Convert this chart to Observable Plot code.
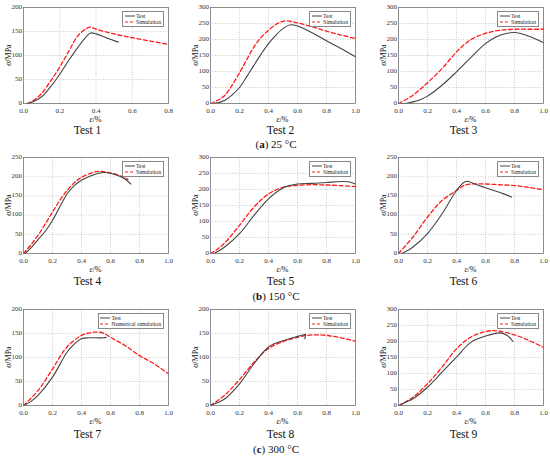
<!DOCTYPE html>
<html><head><meta charset="utf-8">
<script src="https://cdn.jsdelivr.net/npm/d3@7"></script>
<script src="https://cdn.jsdelivr.net/npm/@observablehq/plot@0.6"></script>
<style>
body{margin:0;background:#fff;}
#wrap{position:relative;width:550px;height:459px;overflow:hidden;font-family:"Liberation Serif","Times New Roman",serif;color:#111;}
.abs{position:absolute;white-space:nowrap;transform:translate(-50%,-50%);}
.leg{position:absolute;border:0.6px solid #888;background:#fff;font-size:5.7px;line-height:6.3px;padding:0.8px 2px 0.8px 1.5px;color:#222;white-space:nowrap;}
.leg div{display:flex;align-items:center;}
.leg svg{margin-right:1.5px;}
svg.plot{position:absolute;}
</style></head><body><div id="wrap"></div>
<script>
// ---- data ----
const test1 = [[0.02,0],[0.05,3],[0.1,14],[0.15,35],[0.2,61],[0.25,90],[0.3,117],[0.35,141],[0.37,147],[0.4,145],[0.45,138],[0.5,131],[0.525,128]];
const sim1  = [[0.02,0],[0.05,5],[0.1,21],[0.15,47],[0.2,76],[0.25,109],[0.3,141],[0.35,157],[0.37,159],[0.4,155],[0.5,145],[0.6,137],[0.7,130],[0.8,123]];
const test2 = [[0.02,0],[0.05,2],[0.1,10],[0.15,27],[0.2,50],[0.25,84],[0.3,120],[0.35,155],[0.4,187],[0.45,213],[0.5,234],[0.55,246],[0.6,242],[0.7,221],[0.8,196],[0.9,172],[1.0,146]];
const sim2  = [[0,0],[0.05,10],[0.1,26],[0.15,58],[0.2,96],[0.25,137],[0.3,177],[0.35,207],[0.4,229],[0.45,247],[0.5,257],[0.53,258],[0.6,252],[0.7,240],[0.8,226],[0.9,214],[1.0,203]];
const test3 = [[0.02,0],[0.06,1],[0.1,5],[0.15,12],[0.2,23],[0.3,57],[0.4,99],[0.5,144],[0.6,187],[0.7,213],[0.8,222],[0.9,210],[1.0,190]];
const sim3  = [[0,0],[0.1,26],[0.2,65],[0.3,109],[0.4,161],[0.5,200],[0.6,219],[0.7,229],[0.8,232],[0.9,232],[1.0,232]];
const test4 = [[0.01,0],[0.05,14],[0.1,36],[0.15,58],[0.2,86],[0.25,121],[0.3,155],[0.35,177],[0.4,191],[0.5,207],[0.55,211],[0.6,209],[0.65,203],[0.7,194],[0.74,181]];
const sim4  = [[0,0],[0.05,22],[0.1,47],[0.15,77],[0.2,108],[0.25,138],[0.3,164],[0.35,184],[0.4,198],[0.5,213],[0.6,210],[0.7,197],[0.72,193]];
const test5 = [[0.02,0],[0.05,6],[0.1,21],[0.2,62],[0.3,119],[0.4,171],[0.5,205],[0.6,217],[0.7,219],[0.8,222],[0.9,225],[0.95,224],[1.0,217]];
const sim5  = [[0,0],[0.05,14],[0.1,34],[0.2,88],[0.3,145],[0.4,186],[0.5,207],[0.6,213],[0.7,215],[0.8,214],[0.9,212],[1.0,209]];
const test6 = [[0.02,0],[0.05,5],[0.1,17],[0.2,52],[0.3,103],[0.4,164],[0.45,185],[0.48,188],[0.5,185],[0.6,171],[0.7,159],[0.78,147]];
const sim6  = [[0,0],[0.1,43],[0.2,95],[0.3,138],[0.4,164],[0.45,177],[0.5,181],[0.6,181],[0.7,179],[0.8,177],[0.9,172],[1.0,166]];
const test7 = [[0,0],[0.05,8],[0.1,21],[0.2,59],[0.3,111],[0.35,128],[0.4,139],[0.45,141],[0.5,141],[0.55,141],[0.57,142]];
const sim7  = [[0,0],[0.1,31],[0.2,76],[0.3,122],[0.4,146],[0.45,151],[0.5,153],[0.55,151],[0.6,142],[0.7,125],[0.8,104],[0.9,87],[1.0,66]];
const test8 = [[0,0],[0.05,6],[0.1,14],[0.2,45],[0.3,87],[0.4,122],[0.5,135],[0.6,144],[0.64,147],[0.655,148],[0.65,139]];
const sim8  = [[0,0],[0.1,22],[0.2,54],[0.3,90],[0.4,119],[0.5,133],[0.6,142],[0.7,147],[0.8,146],[0.9,141],[1.0,134]];
const test9 = [[0.01,0],[0.05,10],[0.1,21],[0.2,57],[0.3,104],[0.4,151],[0.5,198],[0.6,217],[0.7,227],[0.75,219],[0.79,200]];
const sim9  = [[0,0],[0.1,26],[0.2,68],[0.3,120],[0.4,177],[0.5,214],[0.6,231],[0.65,234],[0.7,232],[0.8,221],[0.9,203],[1.0,182]];

const tests = [test1,test2,test3,test4,test5,test6,test7,test8,test9];
const sims  = [sim1,sim2,sim3,sim4,sim5,sim6,sim7,sim8,sim9];
const xMax = [0.8,1,1,1,1,1,1,1,1];
const yMax = [200,300,300,250,300,250,200,200,300];
const titles = ["Test 1","Test 2","Test 3","Test 4","Test 5","Test 6","Test 7","Test 8","Test 9"];
const simLabels = ["Simulation","Simulation","Simulation","Simulation","Simulation","Simulation","Numerical simulation","Simulation","Simulation"];
const captionLetters = ["a","b","c"];
const captionTemps = ["25 °C","150 °C","300 °C"];

// ---- layout ----
const W=178, H=117, ML=23, MR=10, MT=7, MB=14;
const FW = W-ML-MR, FH = H-MT-MB;
const colLeft=[0,187,375], rowTop=[0,150,302];
const titleDx=[-8,-2,-7];
const titleY=[131,282,435], captionY=[143.5,296,449];

const wrap = document.getElementById("wrap");
function addText(html, x, y, size, extra) {
  const d = document.createElement("div");
  d.className = "abs";
  d.innerHTML = html;
  d.style.left = x+"px"; d.style.top = y+"px";
  d.style.fontSize = size+"px"; d.style.lineHeight = size+"px";
  if (extra) Object.assign(d.style, extra);
  wrap.appendChild(d);
}

for (let i=0;i<9;i++){
  const r = Math.floor(i/3), c = i%3;
  const xt = d3.range(0, xMax[i]+1e-9, 0.2);
  const yt = d3.range(0, yMax[i]+1e-9, 50);
  const p = Plot.plot({
    width:W, height:H, marginLeft:ML, marginRight:MR, marginTop:MT, marginBottom:MB,
    style:{fontFamily:'"Liberation Serif","Times New Roman",serif', fontSize:"7px", color:"#333", background:"transparent", overflow:"visible"},
    x:{domain:[0,xMax[i]]},
    y:{domain:[0,yMax[i]]},
    marks:[
      Plot.gridX(xt,{stroke:"#aaa", strokeOpacity:1, strokeDasharray:"1,1.5", strokeWidth:0.6}),
      Plot.gridY(yt,{stroke:"#aaa", strokeOpacity:1, strokeDasharray:"1,1.5", strokeWidth:0.6}),
      Plot.axisX(xt,{tickSize:0, tickPadding:4.5, tickFormat:d=>d.toFixed(1), label:null}),
      Plot.axisY(yt,{tickSize:0, tickPadding:1.5, dy:-1, tickFormat:d=>String(d), label:null}),
      Plot.line(sims[i],{x:d=>d[0], y:d=>d[1], stroke:"#ff1a1a", strokeWidth:1.3, strokeDasharray:"4,2.5", curve:"catmull-rom"}),
      Plot.line(tests[i],{x:d=>d[0], y:d=>d[1], stroke:"#444", strokeWidth:1.1, curve:"catmull-rom"}),
      Plot.frame({stroke:"#777", strokeWidth:0.8})
    ]
  });
  p.classList.add("plot");
  p.style.left = colLeft[c]+"px";
  p.style.top = rowTop[r]+"px";
  wrap.appendChild(p);

  const fl = colLeft[c]+ML, ft = rowTop[r]+MT;
  addText('<i>σ</i>/MPa', fl-15.5, ft+FH/2, 8, {lineHeight:"7px", transform:"translate(-50%,-50%) rotate(-90deg)"});
  addText('<i>ε</i>/%', fl+FW/2, ft+FH+16, 8, {lineHeight:"7px"});
  addText(titles[i], fl+FW/2+titleDx[c], titleY[r], 11.5);

  const lg = document.createElement("div");
  lg.className = "leg";
  lg.innerHTML =
    `<div><svg width="10" height="4"><line x1="0" x2="10" y1="2" y2="2" stroke="#444" stroke-width="1"/></svg>Test</div>`+
    `<div><svg width="10" height="4"><line x1="0" x2="10" y1="2" y2="2" stroke="#ff1a1a" stroke-width="1.2" stroke-dasharray="3,2"/></svg>${simLabels[i]}</div>`;
  lg.style.right = (550-(fl+FW)+4)+"px";
  lg.style.top = (ft+4)+"px";
  wrap.appendChild(lg);
}
for (let r=0;r<3;r++){
  addText(`(<b>${captionLetters[r]}</b>) ${captionTemps[r]}`, 276, captionY[r], 11);
}
</script></body></html>
